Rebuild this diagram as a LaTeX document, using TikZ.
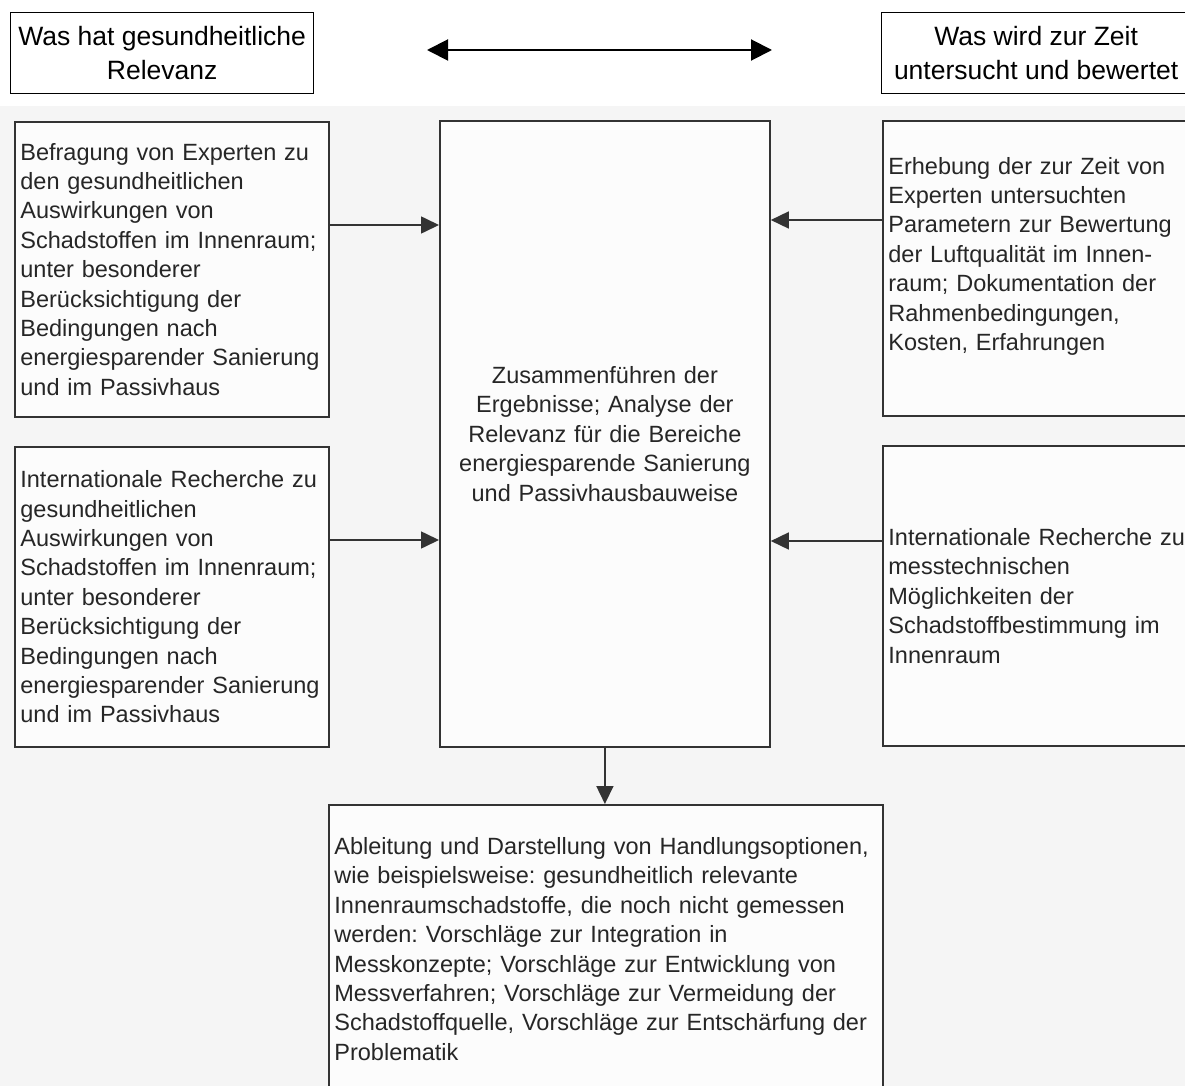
\documentclass[tikz,border=0pt]{standalone}
\usepackage{fontspec}
\setmainfont{Liberation Sans}
\usetikzlibrary{arrows.meta}
\frenchspacing

\begin{document}
\begin{tikzpicture}[x=1pt,y=-1pt,>={Triangle[length=18pt,width=17pt]},
                    text box/.style={rectangle,draw=black!80,line width=1.8pt,fill=black!1,
                      anchor=north west,inner xsep=5.5pt,inner ysep=0pt,align=left,
                      text=black!85,font=\fontsize{23.5}{29.4}\selectfont},
                    head box/.style={rectangle,draw,line width=1.3pt,anchor=north west,
                      inner sep=0pt,align=center,font=\fontsize{26.5}{34}\selectfont},
                    flow/.style={draw=black!80,line width=1.6pt,->}]
  \useasboundingbox (0,0) rectangle (1185,1086);
  \fill[black!4] (0,106) rectangle (1185,1086);
  \node[head box,minimum width=303pt,minimum height=81pt] (relevanz) at (10,12)
    {Was hat gesundheitliche\\Relevanz};
  \node[head box,minimum width=309pt,minimum height=81pt] (zeit) at (881,12)
    {Was wird zur Zeit\\untersucht und bewertet};
  \coordinate (pfeilL) at (427,50);
  \coordinate (pfeilR) at (772,50);
  \node[text box,text width=303pt,minimum height=295pt] (befragung) at (14,121)
    {Befragung von Experten zu\\den gesundheitlichen\\Auswirkungen von\\Schadstoffen im Innenraum;\\unter besonderer\\Ber\"ucksichtigung der\\Bedingungen nach\\energiesparender Sanierung\\und im Passivhaus};
  \node[text box,text width=303pt,minimum height=300pt] (recherche) at (14,446)
    {Internationale Recherche zu\\gesundheitlichen\\Auswirkungen von\\Schadstoffen im Innenraum;\\unter besonderer\\Ber\"ucksichtigung der\\Bedingungen nach\\energiesparender Sanierung\\und im Passivhaus};
  \node[text box,text width=319pt,minimum height=626pt,align=center] (analyse) at (439,120)
    {Zusammenf\"uhren der\\Ergebnisse; Analyse der\\Relevanz f\"ur die Bereiche\\energiesparende Sanierung\\und Passivhausbauweise};
  \node[text box,text width=302pt,minimum height=295pt] (erhebung) at (882,120)
    {Erhebung der zur Zeit von\\Experten untersuchten\\Parametern zur Bewertung\\der Luftqualit\"at im Innen-\\raum; Dokumentation der\\Rahmenbedingungen,\\Kosten, Erfahrungen\\\mbox{}};
  \node[text box,text width=302pt,minimum height=300pt] (messtechnik) at (882,445)
    {Internationale Recherche zu\\messtechnischen\\M\"oglichkeiten der\\Schadstoffbestimmung im\\Innenraum};
  \node[text box,text width=543pt,minimum height=288pt] (optionen) at (328,804)
    {Ableitung und Darstellung von Handlungsoptionen,\\wie beispielsweise: gesundheitlich relevante\\Innenraumschadstoffe, die noch nicht gemessen\\werden: Vorschl\"age zur Integration in\\Messkonzepte; Vorschl\"age zur Entwicklung von\\Messverfahren; Vorschl\"age zur Vermeidung der\\Schadstoffquelle, Vorschl\"age zur Entsch\"arfung der\\Problematik};
  \draw[line width=2pt,{Triangle[length=21pt,width=21pt]}-{Triangle[length=21pt,width=21pt]}]
    (pfeilL) -- (pfeilR);
  \path
    (befragung.east |- 0,225) edge [flow] (analyse.west |- 0,225)
    (recherche.east |- 0,540) edge [flow] (analyse.west |- 0,540)
    (erhebung.west |- 0,220) edge [flow] (analyse.east |- 0,220)
    (messtechnik.west |- 0,541) edge [flow] (analyse.east |- 0,541)
    (analyse.south) edge [flow] (analyse.south |- optionen.north)
    ;
\end{tikzpicture}
\end{document}
